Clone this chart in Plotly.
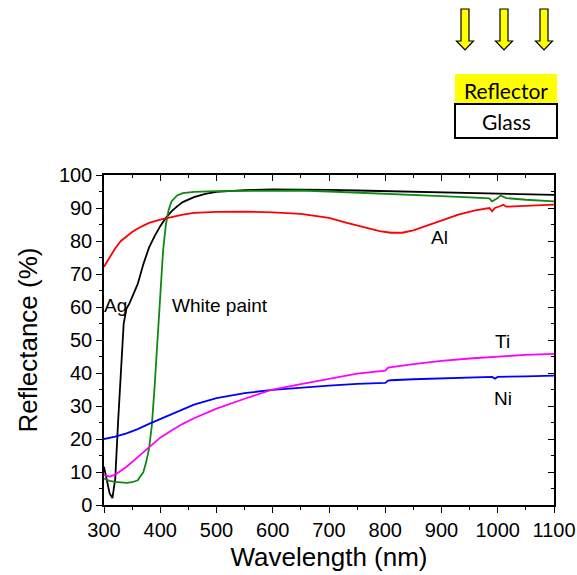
import plotly.graph_objects as go

# ---------------- data ----------------
ag_wl = [300, 305, 310, 315, 320, 325, 330, 335, 340, 345, 350, 360, 370, 380, 390, 400, 410, 420, 430, 440,
         460, 480, 500, 550, 600, 650, 700, 750, 800, 850, 900, 950, 1000, 1050, 1100]
ag_r = [11.6, 7.0, 3.5, 2.1, 8.0, 25.0, 42.0, 55.0, 59.5, 61.0, 63.0, 67.0, 73.0, 78.0, 81.5, 84.5, 87.0, 89.0, 90.5, 91.8,
        93.3, 94.3, 94.9, 95.4, 95.6, 95.6, 95.5, 95.3, 95.1, 94.9, 94.7, 94.5, 94.4, 94.2, 94.0]

wp_wl = [300, 310, 320, 330, 340, 350, 360, 370, 375, 380, 385, 390, 395, 400, 405, 410, 415, 420, 430, 440,
         460, 500, 550, 600, 650, 700, 750, 800, 850, 900, 950, 985, 990, 995, 1000, 1005, 1010, 1015, 1050, 1100]
wp_r = [8.0, 7.3, 7.0, 6.8, 6.7, 6.9, 7.5, 10.0, 13.0, 17.0, 24.0, 36.0, 50.0, 65.0, 77.0, 85.0, 89.5, 92.0, 93.8, 94.5,
        94.9, 95.1, 95.2, 95.3, 95.3, 95.0, 94.7, 94.4, 94.0, 93.6, 93.2, 92.9, 92.0, 92.5, 93.0, 93.8, 93.4, 93.0, 92.5, 92.0]

al_wl = [300, 310, 320, 330, 340, 350, 360, 370, 380, 400, 420, 440, 460, 500, 550, 600, 650, 700, 730, 760,
         790, 810, 830, 850, 870, 900, 930, 960, 985, 990, 995, 1005, 1010, 1015, 1050, 1100]
al_r = [72.2, 75.0, 77.8, 80.0, 81.5, 82.7, 83.8, 84.7, 85.5, 86.5, 87.3, 88.0, 88.5, 88.8, 88.9, 88.7, 88.2, 87.0, 85.6, 84.4,
        83.0, 82.5, 82.5, 83.2, 84.4, 86.3, 88.0, 89.3, 90.0, 89.0, 90.0, 90.6, 91.0, 90.4, 90.7, 91.0]

ni_wl = [300, 320, 340, 360, 380, 400, 430, 460, 500, 550, 600, 650, 700, 750, 800, 805, 810, 850, 900, 950,
         990, 995, 1000, 1050, 1100]
ni_r = [20.0, 20.7, 21.7, 23.0, 24.6, 26.0, 28.2, 30.4, 32.4, 33.9, 34.9, 35.6, 36.2, 36.7, 37.0, 37.7, 37.8, 38.1, 38.4, 38.6,
        38.8, 38.3, 38.8, 39.0, 39.2]

ti_wl = [300, 310, 320, 330, 340, 360, 380, 400, 420, 440, 460, 500, 550, 600, 650, 700, 750, 800, 805, 850,
         900, 950, 1000, 1050, 1100]
ti_r = [9.1, 8.6, 9.2, 10.3, 11.6, 14.5, 17.5, 20.4, 22.6, 24.6, 26.3, 29.2, 32.2, 35.0, 36.6, 38.2, 39.8, 40.7, 41.6, 42.7,
        43.7, 44.4, 45.0, 45.5, 45.8]

x_ticks = [300, 400, 500, 600, 700, 800, 900, 1000, 1100]
y_ticks = [0, 10, 20, 30, 40, 50, 60, 70, 80, 90, 100]

labels = ["Ag", "White paint", "Al", "Ti", "Ni"]
label_x = [321, 506, 897, 1009, 1009]
label_y = [60.6, 60.6, 81.2, 49.5, 32.4]

series = [
    (ag_wl, ag_r, "#000000"),
    (wp_wl, wp_r, "#118811"),
    (al_wl, al_r, "#ff0000"),
    (ni_wl, ni_r, "#0000ff"),
    (ti_wl, ti_r, "#ff00ff"),
]

# ---------------- figure ----------------
W, H = 577, 575
L, R, T, B = 104, 23, 175, 70
PW, PH = W - L - R, H - T - B

def px(x):
    return (x - L) / PW

def py(y):
    return (H - B - y) / PH

fig = go.Figure()
for wl, r, c in series:
    fig.add_trace(go.Scatter(x=wl, y=r, mode="lines", line=dict(color=c, width=1.8),
                             showlegend=False, hoverinfo="skip"))

# dummy trace for mirrored (inside) axes
fig.add_trace(go.Scatter(x=[300], y=[0], xaxis="x2", yaxis="y2", mode="markers",
                         marker=dict(opacity=0), showlegend=False, hoverinfo="skip"))

font_main = "Liberation Sans, Arial, sans-serif"

for t, xx, yy in zip(labels, label_x, label_y):
    fig.add_annotation(x=xx, y=yy, text=t, showarrow=False, xanchor="center", yanchor="middle",
                       font=dict(family=font_main, size=19, color="black"))

axis_common = dict(showgrid=False, zeroline=False, linecolor="black", linewidth=1.5,
                   tickcolor="black", tickwidth=1.2, automargin=False)

fig.update_layout(
    width=W, height=H,
    margin=dict(l=L, r=R, t=T, b=B, pad=0, autoexpand=False),
    paper_bgcolor="white", plot_bgcolor="white",
    xaxis=dict(range=[300, 1100], tickvals=x_ticks, ticktext=[str(v) for v in x_ticks],
               ticks="outside", ticklen=6,
               minor=dict(ticks="outside", ticklen=3, dtick=50, tick0=300, tickcolor="black"),
               title=dict(text="Wavelength (nm)", font=dict(family=font_main, size=26, color="black"), standoff=8),
               tickfont=dict(family=font_main, size=20, color="black"), **axis_common),
    yaxis=dict(range=[0, 100], tickvals=y_ticks, ticktext=[str(v) for v in y_ticks],
               ticks="outside", ticklen=6,
               minor=dict(ticks="outside", ticklen=3, dtick=5, tick0=0, tickcolor="black"),
               title=dict(text="Reflectance (%)", font=dict(family=font_main, size=26, color="black"), standoff=14),
               tickfont=dict(family=font_main, size=20, color="black"), **axis_common),
    xaxis2=dict(range=[300, 1100], overlaying="x", side="top", anchor="y", tickvals=x_ticks,
                showticklabels=False, ticks="inside", ticklen=6,
                minor=dict(ticks="inside", ticklen=3, dtick=50, tick0=300, tickcolor="black"),
                **axis_common),
    yaxis2=dict(range=[0, 100], overlaying="y", side="right", anchor="x", tickvals=y_ticks,
                showticklabels=False, ticks="inside", ticklen=6,
                minor=dict(ticks="inside", ticklen=3, dtick=5, tick0=0, tickcolor="black"),
                **axis_common),
)

# ---------------- inset diagram (paper coordinates from pixel layout) ----------------
for cx in [465, 504, 544]:
    sw, hw = 4, 8.5
    top, neck, tip = 9, 41, 50
    pts = [(cx - sw, top), (cx + sw, top), (cx + sw, neck), (cx + hw, neck), (cx, tip),
           (cx - hw, neck), (cx - sw, neck)]
    path = "M " + " L ".join(f"{px(a):.5f},{py(b):.5f}" for a, b in pts) + " Z"
    fig.add_shape(type="path", path=path, xref="paper", yref="paper",
                  fillcolor="#ffff00", line=dict(color="black", width=1.2))

fig.add_shape(type="rect", xref="paper", yref="paper",
              x0=px(455), x1=px(557), y0=py(104), y1=py(74),
              fillcolor="#ffff00", line=dict(width=0))
fig.add_shape(type="rect", xref="paper", yref="paper",
              x0=px(455), x1=px(557), y0=py(138), y1=py(104),
              fillcolor="white", line=dict(color="black", width=2))

inset_font = "Lato, Open Sans, sans-serif"
fig.add_annotation(xref="paper", yref="paper", x=px(506), y=py(90), text="Reflector", showarrow=False,
                   xanchor="center", yanchor="middle",
                   font=dict(family=inset_font, size=21, color="black"))
fig.add_annotation(xref="paper", yref="paper", x=px(506), y=py(122), text="Glass", showarrow=False,
                   xanchor="center", yanchor="middle",
                   font=dict(family=inset_font, size=21, color="black"))

fig.write_html("out.html", config={"displayModeBar": False},
               post_script="document.body.style.margin='0';document.body.style.overflow='hidden';")
